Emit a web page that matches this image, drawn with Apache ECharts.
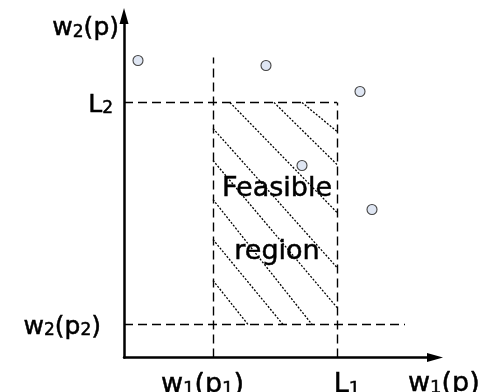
<!DOCTYPE html>
<html><head><meta charset="utf-8">
<script src="https://cdn.jsdelivr.net/npm/echarts@6/dist/echarts.min.js"></script>
<style>html,body{margin:0;padding:0;background:#fff}#c{width:482px;height:392px}</style>
</head><body><div id="c"></div>
<script>
// ---- data (axis units) ----
const xTickValues = [89, 213];
const xTickLabels = ['w1(p1)', 'L1'];
const yTickValues = [33, 255];
const yTickLabels = ['w2(p2)', 'L2'];
const xAxisName = 'w1(p)';
const yAxisName = 'w2(p)';
const regionLabel = ['Feasible', 'region'];
const pointsX = [14, 142, 236, 178, 248];
const pointsY = [297, 292, 266, 192, 148];
// guide (dashed) lines: [x1, y1, x2, y2]
const guideLines = [
  [89, 0, 89, 300],
  [213, 0, 213, 255],
  [0, 255, 213, 255],
  [0, 33, 281, 33]
];
// hatching of the feasible region: [x1, y1, x2, y2]
const hatchLines = [
  [178, 255, 213, 226],
  [150, 255, 213, 193],
  [106, 255, 213, 145],
  [89, 229, 213, 90],
  [89, 197, 213, 50],
  [89, 158, 188, 33],
  [89, 118, 159, 33],
  [89, 77, 124, 33]
];

// ---- styling ----
const FONT = 'DejaVu Sans';
const gapStyle = { 'w1(p1)': { after: 21 }, 'L1': { before: 20 }, 'w2(p2)': { after: 12 }, 'w2(p)': { after: 5 } };
function toRich(s) {
  let out = s.replace(/(\d+)|(\D+)/g, (m, d, t) => d ? '{s|' + d + '}' : '{b|' + t + '}');
  const g = gapStyle[s] || {};
  if (g.before) out = '{g' + g.before + '| }' + out;
  if (g.after) out = out + '{g' + g.after + '| }';
  return out;
}
function richSet(fs, sfs, lh) {
  const slh = lh - 2 * 0.33 * (fs - sfs);
  const common = { fontFamily: FONT, color: '#000', textBorderColor: '#000', textBorderWidth: 0.5 };
  const r = {
    b: Object.assign({ fontSize: fs, lineHeight: lh, verticalAlign: 'bottom' }, common),
    s: Object.assign({ fontSize: sfs, lineHeight: slh, verticalAlign: 'bottom' }, common)
  };
  [5, 12, 20, 21].forEach(w => { r['g' + w] = { width: w, fontSize: 4, lineHeight: 4 }; });
  return r;
}
const leftRich = richSet(25, 17, 30);
const bottomRich = richSet(27, 18, 32);

const chart = echarts.init(document.getElementById('c'), null, { renderer: 'canvas' });
chart.setOption({
  animation: false,
  backgroundColor: '#fff',
  grid: { left: 124, right: 47, top: 16, bottom: 34.5, outerBoundsMode: 'none', containLabel: false },
  xAxis: {
    type: 'value', min: 0, max: 311,
    axisLine: { show: true, onZero: false, symbol: ['none', 'triangle'], symbolSize: [9, 16], lineStyle: { color: '#000', width: 2.5 } },
    axisTick: { show: false }, splitLine: { show: false },
    axisLabel: { customValues: xTickValues, margin: 9, formatter: v => toRich(xTickLabels[xTickValues.indexOf(v)]), rich: bottomRich },
    name: toRich(xAxisName), nameLocation: 'end', nameGap: -27, nameMoveOverlap: false,
    nameTextStyle: { align: 'left', verticalAlign: 'top', padding: [8, 0, 0, 0], rich: bottomRich }
  },
  yAxis: {
    type: 'value', min: 0, max: 341.5,
    axisLine: { show: true, onZero: false, symbol: ['none', 'triangle'], symbolSize: [9, 16], lineStyle: { color: '#000', width: 2.5 } },
    axisTick: { show: false }, splitLine: { show: false },
    axisLabel: { customValues: yTickValues, margin: 11, formatter: v => toRich(yTickLabels[yTickValues.indexOf(v)]), rich: leftRich },
    name: toRich(yAxisName), nameLocation: 'end', nameGap: -10, nameMoveOverlap: false,
    nameTextStyle: { align: 'right', verticalAlign: 'middle', rich: leftRich }
  },
  series: [
    {
      type: 'lines', coordinateSystem: 'cartesian2d', silent: true, z: 3,
      data: hatchLines.map(l => ({ coords: [[l[0], l[1]], [l[2], l[3]]] })),
      lineStyle: { color: '#000', width: 1.3, type: [2, 1.6], opacity: 1 }
    },
    {
      type: 'lines', coordinateSystem: 'cartesian2d', silent: true, z: 4,
      data: guideLines.map(l => ({ coords: [[l[0], l[1]], [l[2], l[3]]] })),
      lineStyle: { color: '#000', width: 1.4, type: [9, 5], opacity: 1 },
      markArea: {
        silent: true,
        itemStyle: { color: 'rgba(0,0,0,0)' },
        label: { show: true, position: 'inside', formatter: regionLabel.join('\n'), fontFamily: FONT, fontSize: 27, lineHeight: 63, color: '#000', textBorderColor: '#000', textBorderWidth: 0.5, offset: [2, 7] },
        data: [[{ coord: [xTickValues[0], yTickValues[0]] }, { coord: [xTickValues[1], yTickValues[1]] }]]
      }
    },
    {
      type: 'scatter', silent: true, z: 5,
      data: pointsX.map((x, i) => [x, pointsY[i]]),
      symbolSize: 10,
      itemStyle: { color: '#dfe6f3', borderColor: '#444', borderWidth: 1.1, opacity: 1 }
    }
  ]
});
</script></body></html>
